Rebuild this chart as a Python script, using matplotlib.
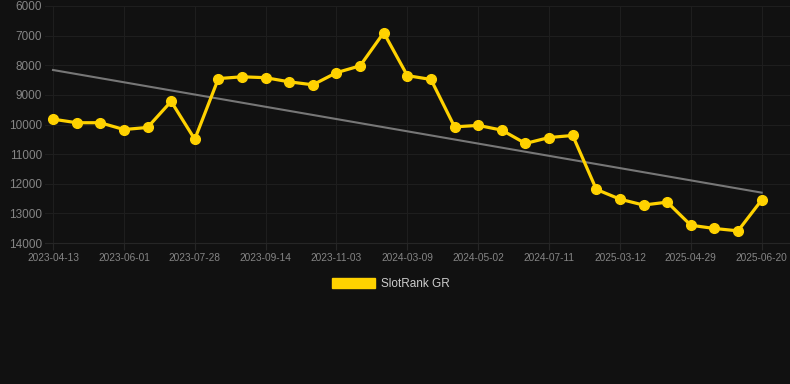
import matplotlib
matplotlib.use("Agg")
import matplotlib.pyplot as plt
from matplotlib.patches import Patch

plt.rcParams["font.family"] = ["Liberation Sans", "DejaVu Sans"]

dates = ["2023-04-13", "2023-05-01", "2023-05-16", "2023-06-01", "2023-06-18", "2023-07-05",
         "2023-07-28", "2023-08-12", "2023-08-28", "2023-09-14", "2023-09-30", "2023-10-17",
         "2023-11-03", "2023-12-01", "2024-01-20", "2024-03-09", "2024-03-25", "2024-04-10",
         "2024-05-02", "2024-05-20", "2024-06-10", "2024-07-11", "2024-08-01", "2025-02-20",
         "2025-03-12", "2025-03-28", "2025-04-12", "2025-04-29", "2025-05-15", "2025-06-01",
         "2025-06-20"]
ranks = [9820, 9940, 9940, 10170, 10100, 9220, 10500, 8450, 8390, 8420, 8560, 8660,
         8250, 8020, 6900, 8350, 8480, 10080, 10030, 10190, 10640, 10440, 10370, 12190,
         12520, 12720, 12620, 13400, 13510, 13590, 12550]
trend_ends = [8160, 12300]
series_name = "SlotRank GR"
yticks = [6000, 7000, 8000, 9000, 10000, 11000, 12000, 13000, 14000]

BG = "#111111"
GOLD = "#FFD200"
GRID = "#1e1e1e"

fig = plt.figure(figsize=(7.9, 3.84), dpi=100, facecolor=BG)
ax = fig.add_axes([45/790, 1-243/384, 745/790, 237/384], facecolor=BG)

x = list(range(len(ranks)))
ax.plot([x[0], x[-1]], trend_ends, color="#777777", lw=1.5, zorder=2)
ax.plot(x, ranks, color=GOLD, lw=2.3, marker="o", ms=7, zorder=3)

ax.set_ylim(14000, 6000)
ax.set_xlim(-0.34, 31.2)
ax.set_yticks(yticks)
ax.set_yticklabels([str(v) for v in yticks])
tick_idx = list(range(0, len(dates), 3))
ax.set_xticks(tick_idx)
ax.set_xticklabels([dates[i] for i in tick_idx])

ax.grid(True, color=GRID, lw=0.8, zorder=0)
for s in ["top", "right", "left"]:
    ax.spines[s].set_visible(False)
ax.spines["bottom"].set_color("#262626")
ax.tick_params(axis="y", length=0, labelsize=8.5, labelcolor="#858585", pad=2)
ax.tick_params(axis="x", length=5, color="#262626", labelsize=7.3, labelcolor="#858585", pad=2)

handle = Patch(facecolor=GOLD, edgecolor=GOLD)
leg = fig.legend([handle], [series_name], loc="center", bbox_to_anchor=(391/790, 1-284/384),
                 frameon=False, handlelength=3.6, handleheight=1.0, fontsize=8.5,
                 labelcolor="#cccccc", handletextpad=0.5)

fig.savefig("out.png", dpi=100, facecolor=BG)
